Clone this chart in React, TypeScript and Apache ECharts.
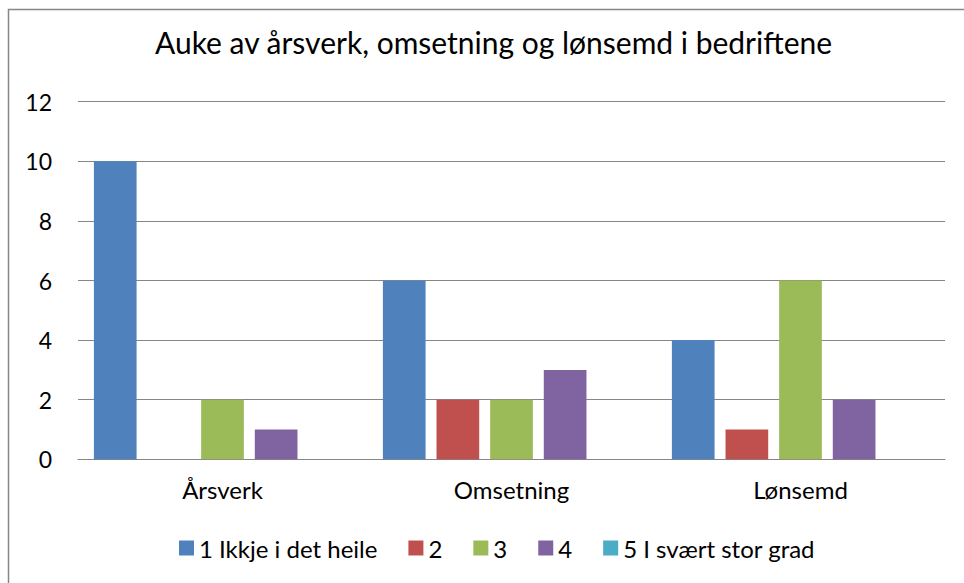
import React, { useEffect, useRef } from "react";
import * as echarts from "echarts";

const categories = ["Årsverk", "Omsetning", "Lønsemd"];
const seriesNames = ["1 Ikkje i det heile", "2", "3", "4", "5 I svært stor grad"];
const s1 = [10, 6, 4];
const s2 = [0, 2, 1];
const s3 = [2, 2, 6];
const s4 = [1, 3, 2];
const s5 = [0, 0, 0];
const seriesValues = [s1, s2, s3, s4, s5];
const colors = ["#4F81BD", "#C0504D", "#9BBB59", "#8064A2", "#4BACC6"];
const yTicks = { min: 0, max: 12, interval: 2 };

const FONT = "Lato";

export default function App() {
  const ref = useRef<HTMLDivElement>(null);
  useEffect(() => {
    if (!ref.current) return;
    const chart = echarts.init(ref.current, null, { renderer: "svg" });
    chart.setOption({
      animation: false,
      backgroundColor: "#ffffff",
      color: colors,
      title: {
        text: "Auke av årsverk, omsetning og lønsemd i bedriftene",
        left: 155,
        top: 27,
        padding: 0,
        textStyle: { fontFamily: FONT, fontSize: 30, fontWeight: "normal", color: "#000" },
      },
      graphic: [
        {
          type: "rect",
          silent: true,
          shape: { x: 8.5, y: 9.5, width: 1000, height: 1000 },
          style: { fill: "none", stroke: "#868686", lineWidth: 1.5 },
        },
      ],
      legend: {
        top: 536,
        left: 179,
        padding: 0,
        itemWidth: 15,
        itemHeight: 15,
        itemGap: 31,
        icon: "rect",
        textStyle: { fontFamily: FONT, fontSize: 24, color: "#000" },
        data: seriesNames,
      },
      grid: { left: 78, right: 19, top: 101.7, bottom: 583 - 459.3, containLabel: false },
      xAxis: {
        type: "category",
        data: categories,
        axisLine: { lineStyle: { color: "#868686", width: 1.2 } },
        axisTick: { show: false },
        axisLabel: { fontFamily: FONT, fontSize: 24, color: "#000", margin: 18 },
      },
      yAxis: {
        type: "value",
        min: yTicks.min,
        max: yTicks.max,
        interval: yTicks.interval,
        axisLine: { show: false },
        axisTick: { show: false },
        axisLabel: { fontFamily: FONT, fontSize: 23, color: "#000", margin: 26 },
        splitLine: { lineStyle: { color: "#868686", width: 1.2 } },
      },
      series: seriesValues.map((vals, i) => ({
        name: seriesNames[i],
        type: "bar",
        data: vals,
        barWidth: 42.7,
        barGap: "25.6%",
        itemStyle: { color: colors[i] },
      })),
    });
    return () => chart.dispose();
  }, []);
  return (
    <div
      ref={ref}
      style={{ position: "absolute", left: 0, top: 0, width: 964, height: 583, background: "#fff" }}
    />
  );
}
